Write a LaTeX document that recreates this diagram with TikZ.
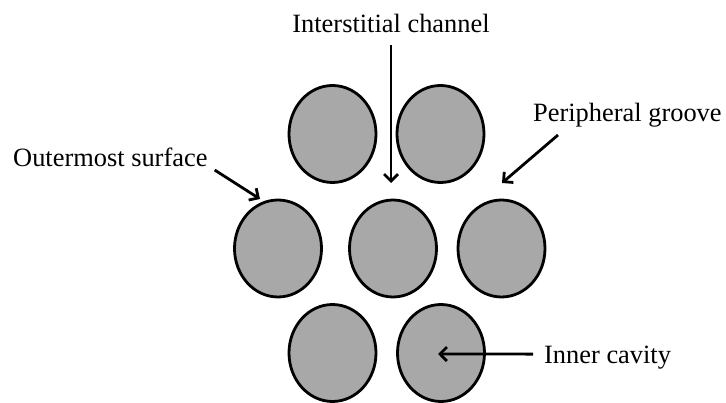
\documentclass[tikz,border=0pt]{standalone}
\usepackage{fontspec}
\setmainfont{Liberation Serif}
\usetikzlibrary{shapes.geometric,arrows.meta}
\definecolor{fibre}{RGB}{168,168,168}
\begin{document}
\begin{tikzpicture}[x=1pt,y=-1pt,
  fibrebox/.style={ellipse,draw=black,fill=fibre,line width=2.8pt,minimum width=87pt,minimum height=97pt,inner sep=0pt},
  lbl/.style={inner sep=0pt,font=\fontsize{26.4}{30}\selectfont},
  arr/.style={line width=2.8pt,-{Straight Barb[length=7pt,width=14pt]}}]
\useasboundingbox (0,0) rectangle (726,403);
% fibres
\node[fibrebox] (tl) at (332.5,134) {};
\node[fibrebox] (tr) at (440.5,134) {};
\node[fibrebox] (ml) at (278,248.5) {};
\node[fibrebox] (mc) at (393,248.5) {};
\node[fibrebox] (mr) at (501.5,248.5) {};
\node[fibrebox] (bl) at (332.5,353) {};
\node[fibrebox] (br) at (441,353) {};
% labels
\node[lbl,anchor=base] (ich) at (391,33) {Interstitial channel};
\node[lbl,anchor=base west] (osf) at (13,167) {Outermost surface};
\node[lbl,anchor=base west] (pgr) at (533,122) {Peripheral groove};
\node[lbl,anchor=base west] (icv) at (544,363) {Inner cavity};
% arrow targets
\coordinate (ichtip) at (391,183);
\coordinate (osftip) at (260,199);
\coordinate (pgrtip) at (502,183);
\coordinate (icvtip) at (438,354);
% arrows
\draw[arr] ([yshift=-12pt]ich.south) -- (ichtip);
\draw[arr] ([xshift=7pt,yshift=-3pt]osf.base east) -- (osftip);
\draw[arr] ([xshift=25pt,yshift=-13pt]pgr.base west) -- (pgrtip);
\draw[arr] ([xshift=-11pt,yshift=3pt]icv.west) -- (icvtip);
\end{tikzpicture}
\end{document}
